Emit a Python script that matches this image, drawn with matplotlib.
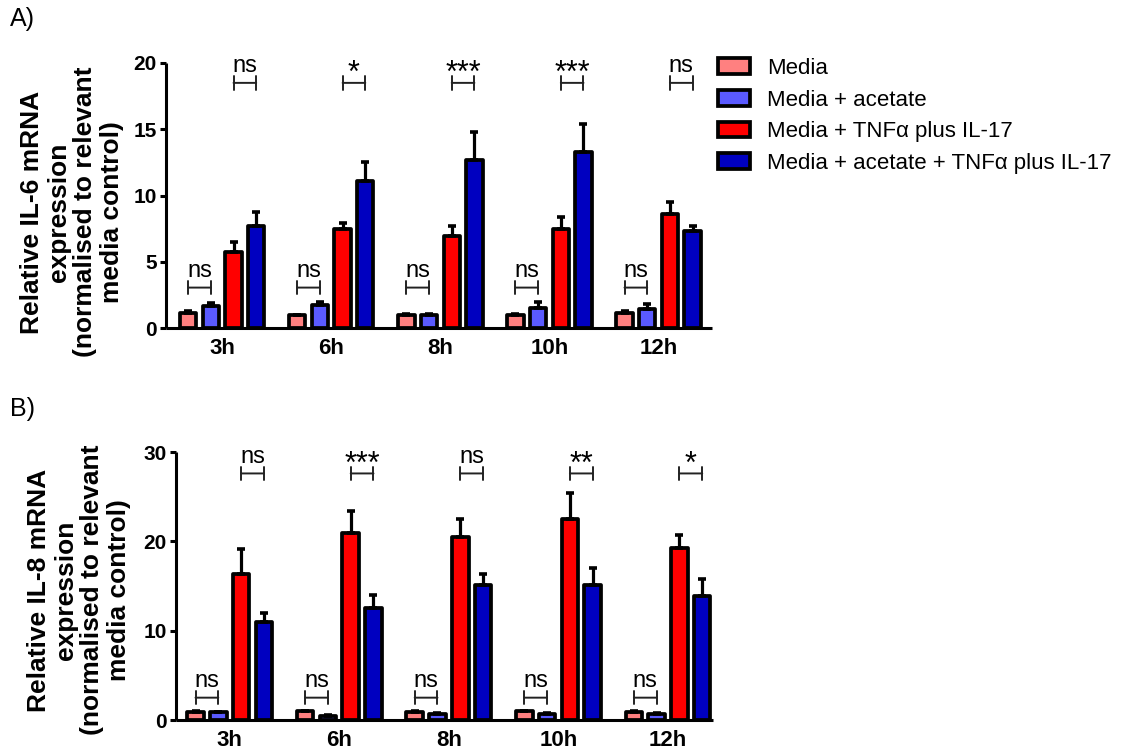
import matplotlib
matplotlib.use("Agg")
import matplotlib.pyplot as plt
from matplotlib.patches import Patch
import numpy as np

plt.rcParams['font.family'] = ['Liberation Sans', 'DejaVu Sans']

# ---- data -------------------------------------------------------------
timepoints = ['3h', '6h', '8h', '10h', '12h']
series_names = ['Media', 'Media + acetate',
                'Media + TNF\u03b1 plus IL-17',
                'Media + acetate + TNF\u03b1 plus IL-17']
series_colors = ['#FF8080', '#5A5AFF', '#FF0000', '#0000C0']

# IL-6 (panel A): means and upper SEM
il6_media = [1.10, 0.95, 0.97, 0.97, 1.13]
il6_media_err = [0.15, 0.05, 0.05, 0.05, 0.15]
il6_acetate = [1.65, 1.70, 0.97, 1.50, 1.40]
il6_acetate_err = [0.20, 0.28, 0.10, 0.50, 0.38]
il6_cyto = [5.75, 7.50, 6.95, 7.50, 8.60]
il6_cyto_err = [0.75, 0.42, 0.76, 0.86, 0.93]
il6_acetate_cyto = [7.70, 11.10, 12.65, 13.30, 7.30]
il6_acetate_cyto_err = [1.05, 1.46, 2.15, 2.10, 0.38]
il6_sig_low = ['ns', 'ns', 'ns', 'ns', 'ns']
il6_sig_high = ['ns', '*', '***', '***', 'ns']

# IL-8 (panel B): means and upper SEM
il8_media = [0.95, 1.00, 0.95, 1.00, 0.95]
il8_media_err = [0.05, 0.05, 0.05, 0.05, 0.05]
il8_acetate = [0.85, 0.50, 0.68, 0.68, 0.68]
il8_acetate_err = [0.05, 0.05, 0.05, 0.05, 0.05]
il8_cyto = [16.30, 20.90, 20.50, 22.50, 19.20]
il8_cyto_err = [2.85, 2.50, 1.95, 2.90, 1.55]
il8_acetate_cyto = [11.00, 12.50, 15.10, 15.10, 13.85]
il8_acetate_cyto_err = [1.00, 1.50, 1.25, 1.95, 1.90]
il8_sig_low = ['ns', 'ns', 'ns', 'ns', 'ns']
il8_sig_high = ['ns', '***', 'ns', '**', '*']

# ---- figure -----------------------------------------------------------
W, H = 1127, 753
fig = plt.figure(figsize=(W / 100, H / 100), dpi=100)


def px_axes(left, top, right, bottom):
    return fig.add_axes([left / W, 1 - bottom / H, (right - left) / W, (bottom - top) / H])


ax_a = px_axes(166, 63, 712, 328)
ax_b = px_axes(176, 452, 713, 720)

PITCH = 0.208
WIDTH = 0.150
EDGE_LW = 2.7


def draw_panel(ax, means, errs, ymax, yticks, xlim, sig_low, sig_high,
               y_low, y_high):
    x = np.arange(len(timepoints))
    for k, (m, e, c) in enumerate(zip(means, errs, series_colors)):
        pos = x + (k - 1.5) * PITCH
        ax.bar(pos, m, WIDTH, color=c, edgecolor='black', linewidth=EDGE_LW,
               joinstyle='round',
               yerr=[np.zeros(len(m)), e], capsize=3.2,
               error_kw=dict(elinewidth=2.3, capthick=2.6, ecolor='black'),
               zorder=3)
    # significance brackets
    for i in range(len(timepoints)):
        for (k1, k2, yb, lab) in ((0, 1, y_low, sig_low[i]),
                                  (2, 3, y_high, sig_high[i])):
            x1 = i + (k1 - 1.5) * PITCH
            x2 = i + (k2 - 1.5) * PITCH
            ax.annotate('', xy=(x1, yb), xytext=(x2, yb),
                        arrowprops=dict(arrowstyle='|-|,widthA=0.48,widthB=0.48',
                                        lw=1.4, color='#222222',
                                        shrinkA=0, shrinkB=0,
                                        mutation_scale=10),
                        annotation_clip=False)
            if lab == 'ns':
                ax.annotate(lab, xy=((x1 + x2) / 2, yb), xytext=(0, 7.5),
                            textcoords='offset points', ha='center',
                            va='baseline', fontsize=17, annotation_clip=False)
            else:
                ax.annotate(lab, xy=((x1 + x2) / 2, yb), xytext=(0, 0.5),
                            textcoords='offset points', ha='center',
                            va='baseline', fontsize=22, annotation_clip=False)

    ax.set_xlim(*xlim)
    ax.set_ylim(0, ymax)
    ax.set_yticks(yticks)
    ax.set_xticks(x)
    ax.set_xticklabels(timepoints, fontsize=16, fontweight='bold')
    ax.tick_params(axis='x', length=0, pad=7)
    ax.tick_params(axis='y', direction='out', length=4.5, width=2.2, pad=2,
                   labelsize=15)
    for lbl in ax.get_yticklabels():
        lbl.set_fontweight('bold')
    for s in ('top', 'right'):
        ax.spines[s].set_visible(False)
    for s in ('left', 'bottom'):
        ax.spines[s].set_linewidth(2.2)
        ax.spines[s].set_capstyle('butt')


draw_panel(ax_a,
           [il6_media, il6_acetate, il6_cyto, il6_acetate_cyto],
           [il6_media_err, il6_acetate_err, il6_cyto_err, il6_acetate_cyto_err],
           20, [0, 5, 10, 15, 20], (-0.515, 4.49),
           il6_sig_low, il6_sig_high, 3.05, 18.5)

draw_panel(ax_b,
           [il8_media, il8_acetate, il8_cyto, il8_acetate_cyto],
           [il8_media_err, il8_acetate_err, il8_cyto_err, il8_acetate_cyto_err],
           30, [0, 10, 20, 30], (-0.49, 4.41),
           il8_sig_low, il8_sig_high, 2.5, 27.6)

# y-axis titles
fig.text(72 / W, 1 - 212 / H,
         'Relative IL-6 mRNA\nexpression\n(normalised to relevant\nmedia control)',
         rotation=90, ha='center', va='center', multialignment='center',
         fontsize=19, fontweight='bold', linespacing=1.15)
fig.text(79 / W, 1 - 590 / H,
         'Relative IL-8 mRNA\nexpression\n(normalised to relevant\nmedia control)',
         rotation=90, ha='center', va='center', multialignment='center',
         fontsize=19, fontweight='bold', linespacing=1.15)

# panel letters
fig.text(10 / W, 1 - 19 / H, 'A)', fontsize=18, va='center', ha='left')
fig.text(10 / W, 1 - 409 / H, 'B)', fontsize=18, va='center', ha='left')

# legend
handles = [Patch(facecolor=c, edgecolor='black', linewidth=2.7)
           for c in series_colors]
fig.legend(handles, series_names, loc='upper left',
           bbox_to_anchor=(718 / W, 1 - 58 / H), frameon=False, fontsize=16,
           handlelength=1.45, handleheight=0.7, handletextpad=0.75,
           labelspacing=0.48, borderpad=0, borderaxespad=0)

fig.savefig('out.png', dpi=100)
